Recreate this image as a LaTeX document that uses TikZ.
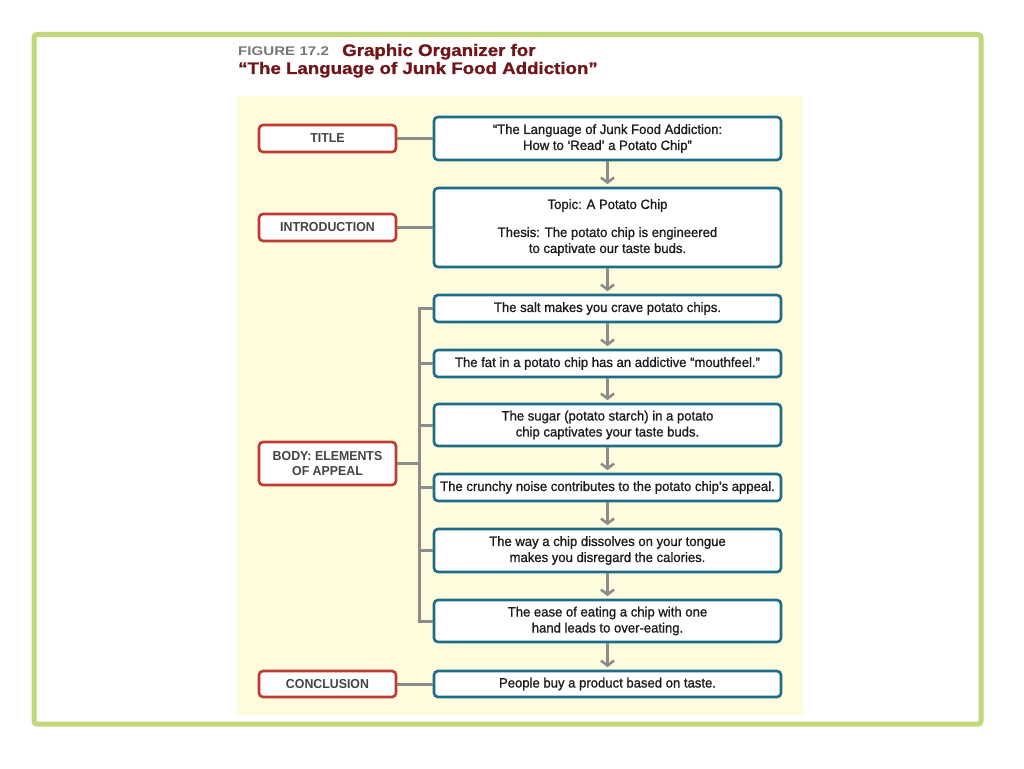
\documentclass[tikz,border=0pt]{standalone}
\usepackage{fontspec}
\setmainfont{Liberation Sans}
\newfontfamily\bodyfont{Liberation Sans}[FakeStretch=0.97, FakeBold=1.0]
\newfontfamily\lblfont{Liberation Sans Bold}[FakeStretch=0.95]
\newfontfamily\headfont{Liberation Sans Bold}[FakeStretch=1.12, FakeBold=1.2]
\newfontfamily\figfont{Liberation Sans Bold}[FakeStretch=1.2]
\usetikzlibrary{arrows.meta}
\definecolor{frameg}{RGB}{192,216,122}
\definecolor{cream}{RGB}{255,252,222}
\definecolor{redb}{RGB}{192,58,52}
\definecolor{blueb}{RGB}{28,108,138}
\definecolor{grayl}{RGB}{140,140,140}
\definecolor{txt}{RGB}{30,26,32}
\definecolor{lbl}{RGB}{68,68,68}
\definecolor{headred}{RGB}{112,22,24}
\definecolor{headgray}{RGB}{120,120,120}
\tikzset{
  redbox/.style={draw=redb, line width=2.6pt, fill=white, rounded corners=4pt,
    minimum width=137pt, inner sep=0pt, align=center, text=lbl,
    font=\fontsize{13}{15.5}\lblfont},
  bluebox/.style={draw=blueb, line width=2.6pt, fill=white, rounded corners=4pt,
    minimum width=347pt, inner sep=0pt, align=center, text=txt,
    font=\fontsize{13.5}{16}\bodyfont},
  conn/.style={draw=grayl, line width=3pt},
  flow/.style={draw=grayl, line width=2.6pt, -{Straight Barb[length=5pt,width=13pt]}, shorten >=2.5pt}
}
\begin{document}
\begin{tikzpicture}[x=1pt,y=-1pt]
\useasboundingbox (0,0) rectangle (1024,768);
\fill[white] (0,0) rectangle (1024,768);
\draw[frameg, line width=5pt, rounded corners=3pt] (34,34.5) rectangle (981,724);
\fill[cream] (237,96) rectangle (803,715);
% heading
\node[anchor=base west, inner sep=0pt, font=\fontsize{12.6}{15}\figfont, text=headgray] (fig) at (238,56) {FIGURE 17.2};
\node[anchor=base west, inner sep=0pt, font=\fontsize{16.7}{20}\headfont, text=headred] (head1) at (342,56) {Graphic Organizer for};
\node[anchor=base west, inner sep=0pt, font=\fontsize{16.7}{20}\headfont, text=headred] (head2) at (238,74) {“The Language of Junk Food Addiction”};
% blue boxes
\node[bluebox, minimum height=43pt] (b1) at (607.5,138.5) {“The Language of Junk Food Addiction:\\How to ‘Read’ a Potato Chip”};
\node[bluebox, minimum height=79pt] (b2) at (607.5,227.5) {Topic: A Potato Chip\\[12pt]Thesis: The potato chip is engineered\\to captivate our taste buds.};
\node[bluebox, minimum height=27pt] (b3) at (607.5,308.5) {The salt makes you crave potato chips.};
\node[bluebox, minimum height=27pt] (b4) at (607.5,363.5) {The fat in a potato chip has an addictive “mouthfeel.”};
\node[bluebox, minimum height=42pt] (b5) at (607.5,425) {The sugar (potato starch) in a potato\\chip captivates your taste buds.};
\node[bluebox, minimum height=27pt] (b6) at (607.5,487.5) {The crunchy noise contributes to the potato chip’s appeal.};
\node[bluebox, minimum height=43pt] (b7) at (607.5,550.5) {The way a chip dissolves on your tongue\\makes you disregard the calories.};
\node[bluebox, minimum height=42pt] (b8) at (607.5,621) {The ease of eating a chip with one\\hand leads to over-eating.};
\node[bluebox, minimum height=26pt] (b9) at (607.5,684) {People buy a product based on taste.};
% red boxes
\node[redbox, minimum height=27pt] (r1) at (327.5,138.5) {TITLE};
\node[redbox, minimum height=27pt] (r2) at (327.5,227.5) {INTRODUCTION};
\node[redbox, minimum height=43pt] (r3) at (327.5,463.5) {BODY: ELEMENTS\\OF APPEAL};
\node[redbox, minimum height=26pt] (r4) at (327.5,684) {CONCLUSION};
% connectors
\coordinate (brk) at (419,463.5);
\draw[conn] (r1.east) -- (b1.west);
\draw[conn] (r2.east) -- (b2.west);
\draw[conn] (r4.east) -- (b9.west);
\draw[conn] (r3.east) -- (brk);
\draw[conn, line join=miter] (b3.west) -| (419,621) -- (b8.west);
\draw[conn] (b4.west) -- (b4.west -| brk);
\draw[conn] (b5.west) -- (b5.west -| brk);
\draw[conn] (b6.west) -- (b6.west -| brk);
\draw[conn] (b7.west) -- (b7.west -| brk);
% flow arrows
\draw[flow] (b1) -- (b2);
\draw[flow] (b2) -- (b3);
\draw[flow] (b3) -- (b4);
\draw[flow] (b4) -- (b5);
\draw[flow] (b5) -- (b6);
\draw[flow] (b6) -- (b7);
\draw[flow] (b7) -- (b8);
\draw[flow] (b8) -- (b9);
\end{tikzpicture}
\end{document}
